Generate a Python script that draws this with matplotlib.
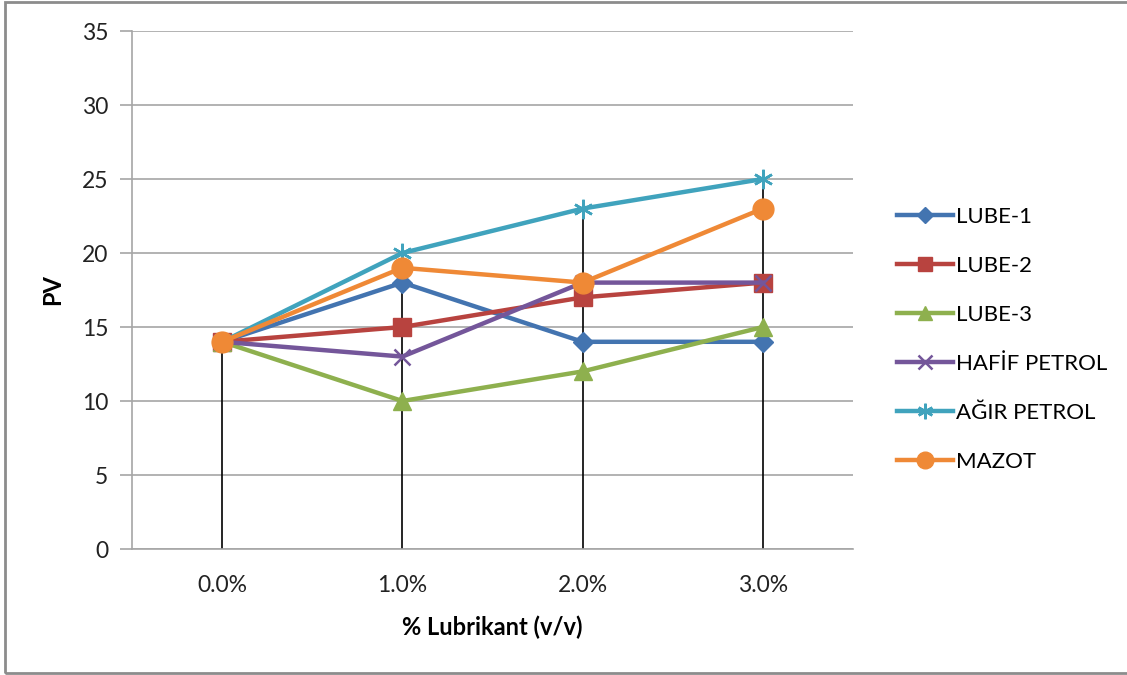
import matplotlib
matplotlib.use("Agg")
import matplotlib.pyplot as plt
from matplotlib.patches import Rectangle

plt.rcParams['font.family'] = ['Lato', 'DejaVu Sans']

categories = ["0.0%", "1.0%", "2.0%", "3.0%"]
series_names = ["LUBE-1", "LUBE-2", "LUBE-3", "HAFİF PETROL", "AĞIR PETROL", "MAZOT"]
lube1 = [14, 18, 14, 14]
lube2 = [14, 15, 17, 18]
lube3 = [14, 10, 12, 15]
hafif = [14, 13, 18, 18]
agir = [14, 20, 23, 25]
mazot = [14, 19, 18, 23]
yticks = [0, 5, 10, 15, 20, 25, 30, 35]

series = [lube1, lube2, lube3, hafif, agir, mazot]
colors = ["#4374B0", "#B8433F", "#8EB04E", "#74569A", "#40A3BD", "#EF8936"]
markers = ["D", "s", "^", "x", "*", "o"]
msizes = [10, 13, 13, 12, 14, 15]

W, H = 1127, 675
fig = plt.figure(figsize=(W / 100, H / 100), dpi=100)
ax = fig.add_axes([132 / W, 1 - 549 / H, (853 - 132) / W, (549 - 31) / H])

x = list(range(len(categories)))

# drop lines
tops = [max(s[i] for s in series) for i in x]
ax.vlines(x, 0, tops, colors="black", linewidth=1.2, zorder=2)

for name, vals, c, m, ms in zip(series_names, series, colors, markers, msizes):
    if m == "*":
        ax.plot(x, vals, color=c, linewidth=3.2, marker=(6, 2, 0), markersize=ms,
                markeredgewidth=1.8, markeredgecolor=c, label=name, zorder=3)
    elif m == "x":
        ax.plot(x, vals, color=c, linewidth=3.2, marker="x", markersize=ms,
                markeredgewidth=1.8, markeredgecolor=c, label=name, zorder=3)
    else:
        ax.plot(x, vals, color=c, linewidth=3.2, marker=m, markersize=ms,
                markerfacecolor=c, markeredgecolor=c, label=name, zorder=3)

ax.set_xlim(-0.5, 3.5)
ax.set_ylim(0, 35)
ax.set_yticks(yticks)
ax.set_xticks(x)
ax.set_xticklabels(categories)
ax.yaxis.grid(True, color="#A6A6A6", linewidth=1.2)
ax.set_axisbelow(True)
for s in ["top", "right"]:
    ax.spines[s].set_visible(False)
ax.spines["left"].set_color("#A6A6A6")
ax.spines["bottom"].set_color("#A6A6A6")
ax.spines["left"].set_linewidth(1.2)
ax.spines["bottom"].set_linewidth(1.2)
ax.tick_params(axis="y", length=9, color="#A6A6A6", width=1.2, labelsize=16.5, pad=8,
               labelcolor="#222222")
ax.tick_params(axis="x", length=0, labelsize=16.5, pad=19, labelcolor="#222222")

ax.set_ylabel("PV", fontsize=17, fontweight="bold", labelpad=13)
ax.set_xlabel("% Lubrikant (v/v)", fontsize=17, fontweight="bold", labelpad=14)

leg = ax.legend(loc="upper left", bbox_to_anchor=(886 / W, 1 - 196 / H),
                bbox_transform=fig.transFigure, frameon=False, fontsize=16,
                handlelength=2.5, handletextpad=0.15, labelspacing=1.3,
                borderpad=0, markerscale=0.8)

fig.patches.append(Rectangle((5 / W, 2 / H), 2.0, (673 - 2) / H, transform=fig.transFigure,
                             fill=False, edgecolor="#8C8C8C", linewidth=2.0))

fig.savefig("out.png", dpi=100, facecolor="white")
